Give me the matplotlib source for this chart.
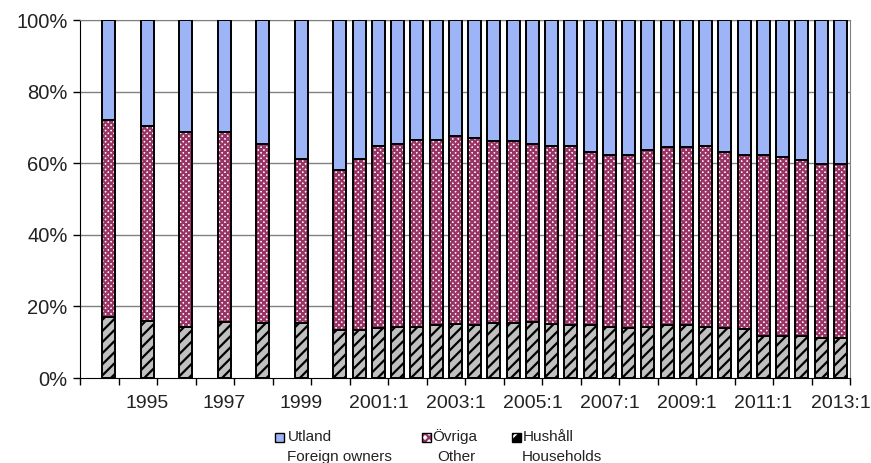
import numpy as np
import matplotlib.pyplot as plt
from matplotlib.patches import Rectangle

plt.rcParams['font.family'] = ['Liberation Sans', 'DejaVu Sans']
plt.rcParams['hatch.linewidth'] = 1.6

# categories (blank slots are empty categories, as in the source sheet)
periods = ['', '1994', '', '1995', '', '1996', '', '1997', '', '1998', '', '1999', '',
           '2000:1', '2000:2', '2001:1', '2001:2', '2002:1', '2002:2', '2003:1', '2003:2',
           '2004:1', '2004:2', '2005:1', '2005:2', '2006:1', '2006:2', '2007:1', '2007:2',
           '2008:1', '2008:2', '2009:1', '2009:2', '2010:1', '2010:2', '2011:1', '2011:2',
           '2012:1', '2012:2', '2013:1']
N = None
hushall = [N, 16.9, N, 15.8, N, 14.3, N, 15.7, N, 15.4, N, 15.4, N,
           13.5, 13.5, 13.9, 14.3, 14.3, 14.7, 15.0, 14.7, 15.3, 15.4, 15.7, 15.0,
           14.7, 14.7, 14.3, 13.9, 14.3, 14.9, 14.9, 14.3, 13.9, 13.6, 11.7, 11.7,
           11.7, 11.2, 11.3]
ovriga = [N, 55.1, N, 54.7, N, 54.5, N, 53.1, N, 50.1, N, 45.7, N,
          44.5, 47.6, 51.0, 51.2, 52.3, 51.9, 52.7, 52.3, 51.0, 50.9, 49.8, 49.9,
          50.2, 48.3, 48.0, 48.4, 49.4, 49.5, 49.5, 50.6, 49.1, 48.7, 50.6, 49.9,
          49.2, 48.6, 48.5]
utland = [N, 28.0, N, 29.5, N, 31.2, N, 31.2, N, 34.5, N, 38.9, N,
          42.0, 38.9, 35.1, 34.5, 33.4, 33.4, 32.3, 33.0, 33.7, 33.7, 34.5, 35.1,
          35.1, 37.0, 37.7, 37.7, 36.3, 35.6, 35.6, 35.1, 37.0, 37.7, 37.7, 38.4,
          39.1, 40.2, 40.2]
label_every = 4
first_label = 3

x = np.arange(len(periods))
has = np.array([v is not None for v in hushall])
xs = x[has]
hh = np.array([v for v in hushall if v is not None])
ov = np.array([v for v in ovriga if v is not None])
ut = np.array([v for v in utland if v is not None])

blue = '#9db4f7'
purple = '#993366'
grey = '#c0c0c0'
w = 0.67

fig = plt.figure(figsize=(8.71, 4.63), dpi=100)
ax = fig.add_axes([80/871, 1-378/463, 770/871, 358/463])

for yv in [20, 40, 60, 80, 100]:
    ax.axhline(yv, color='#808080', lw=1.0, zorder=0)

ax.bar(xs, hh, w, color=grey, edgecolor='black', hatch='///', lw=0, zorder=2)
ax.bar(xs, hh, w, fill=False, edgecolor='black', lw=1.4, zorder=3)
ax.bar(xs, ov, w, bottom=hh, color='white', edgecolor=purple, hatch='xxxxxx', lw=0, zorder=2)
ax.bar(xs, ov, w, bottom=hh, fill=False, edgecolor='black', lw=1.4, zorder=3)
ax.bar(xs, ut, w, bottom=hh + ov, color=blue, edgecolor='black', lw=1.4, zorder=3)

ax.set_xlim(-0.5, len(periods) - 0.5)
ax.set_ylim(0, 100)
ax.set_yticks([0, 20, 40, 60, 80, 100])
ax.set_yticklabels(['%d%%' % v for v in [0, 20, 40, 60, 80, 100]])

lab_pos = x[first_label::label_every]
ax.set_xticks(lab_pos)
ax.set_xticklabels([periods[i] for i in lab_pos])
ax.set_xticks(np.arange(-0.5, len(periods), 2), minor=True)
ax.tick_params(axis='x', which='major', length=0, pad=12)
ax.tick_params(axis='x', which='minor', length=5, width=1, direction='out')
ax.tick_params(axis='y', length=5, width=1, direction='out', pad=4)
ax.tick_params(labelsize=14, labelcolor='#222222')
for t in ax.get_yticklabels():
    t.set_fontsize(14.5)

for s in ['top', 'right']:
    ax.spines[s].set_color('#808080')
ax.spines['left'].set_color('black')
ax.spines['bottom'].set_color('black')
ax.spines['bottom'].set_zorder(4)

# legend
entries = [
    (275, 288, 287, 'Utland', 'Foreign owners', blue, None, None),
    (422, 432, 437, 'Övriga', 'Other', 'white', purple, 'xxxx'),
    (512, 523, 522, 'Hushåll', 'Households', 'black', 'white', '//'),
]
for mx, tx, tx2, l1, l2, fc, hc, hatch in entries:
    box = (mx/871, 1-442/463)
    size = (9/871, 9/463)
    if hatch:
        fig.patches.append(Rectangle(box, *size, transform=fig.transFigure,
                                     facecolor=fc, edgecolor=hc, hatch=hatch, lw=0))
        fig.patches.append(Rectangle(box, *size, transform=fig.transFigure,
                                     fill=False, edgecolor='black', lw=1))
    else:
        fig.patches.append(Rectangle(box, *size, transform=fig.transFigure,
                                     facecolor=fc, edgecolor='black', lw=1))
    fig.text(tx/871, 1-437/463, l1, fontsize=11, va='center', ha='left', color='#222222')
    fig.text(tx2/871, 1-457/463, l2, fontsize=11, va='center', ha='left', color='#222222')

fig.savefig('out.png', dpi=100)
